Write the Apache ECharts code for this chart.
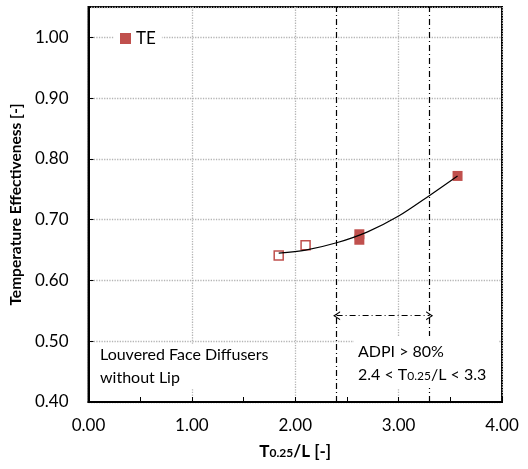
<!DOCTYPE html>
<html>
<head>
<meta charset="utf-8">
<script src="https://cdn.jsdelivr.net/npm/echarts@6/dist/echarts.min.js"></script>
<style>
  html, body { margin: 0; padding: 0; background: #fff; }
  #main { width: 528px; height: 469px; }
</style>
</head>
<body>
<div id="main"></div>
<script>
// values
const teX = [2.62, 2.62, 3.57];
const teY = [0.676, 0.667, 0.772];
const openX = [1.84, 2.10];
const openY = [0.641, 0.658];
// trend curve
const trendX = [1.84, 2.10, 2.40, 2.70, 3.00, 3.30, 3.57];
const trendY = [0.645, 0.650, 0.662, 0.680, 0.706, 0.740, 0.772];
const adpiBounds = [2.4, 3.3];
const arrowY = 0.542;

const red = '#c0504d';
const font = 'Lato';
const dashDot = [6, 3, 1, 3];
const gridGrey = '#b5b5b5';

const zip = (xs, ys) => xs.map((x, i) => [x, ys[i]]);

const chartEl = document.getElementById('main');
const myChart = echarts.init(chartEl, null, { renderer: 'canvas' });

const chevron = 'path://M0,10 L5,0 L10,10 L8.6,10 L5,2.8 L1.4,10 Z';

var option = {
  animation: false,
  grid: { left: 88, right: 26, top: 7, bottom: 67, show: true, borderColor: '#000', borderWidth: 2 },
  legend: {
    data: ['TE'],
    left: 114, top: 27,
    backgroundColor: '#fff',
    padding: [3, 6],
    icon: 'rect',
    itemWidth: 11, itemHeight: 11, itemGap: 7,
    textStyle: { fontFamily: font, fontSize: 17, color: '#000' }
  },
  xAxis: {
    type: 'value', min: 0, max: 4, interval: 1,
    name: '{b|T}{s|0.25}{b|/L [-]}',
    nameLocation: 'middle', nameGap: 41,
    nameTextStyle: {
      rich: {
        b: { fontFamily: font, fontSize: 17, fontWeight: 'bold', color: '#000' },
        s: { fontFamily: font, fontSize: 12, fontWeight: 'bold', color: '#000', padding: [4, 0, 0, 0] }
      }
    },
    axisLine: { lineStyle: { color: '#000', width: 2 } },
    axisTick: { show: true, inside: true, length: 5, lineStyle: { color: '#000' } },
    minorTick: { show: true, splitNumber: 2, length: 5, lineStyle: { color: '#000' } },
    axisLabel: { fontFamily: font, fontSize: 17, color: '#000', margin: 15, formatter: v => v.toFixed(2) },
    splitLine: { show: true, lineStyle: { color: gridGrey, type: 'dotted', width: 1.3 } }
  },
  yAxis: {
    type: 'value', min: 0.4, max: 1.05, interval: 0.1,
    name: 'Temperature Effectiveness [-]',
    nameLocation: 'middle', nameGap: 61,
    nameTextStyle: { fontFamily: font, fontSize: 15.5, fontWeight: 'bold', color: '#000' },
    axisLine: { lineStyle: { color: '#000', width: 2 } },
    axisTick: { show: true, inside: true, length: 5, lineStyle: { color: '#000' } },
    axisLabel: { fontFamily: font, fontSize: 17, color: '#000', margin: 20, showMaxLabel: false,
      formatter: v => v.toFixed(2) },
    splitLine: { show: true, lineStyle: { color: gridGrey, type: 'dotted', width: 1.3 } }
  },
  series: [
    {
      name: 'open',
      type: 'scatter',
      symbol: 'rect', symbolSize: 9,
      itemStyle: { color: '#fff', borderColor: red, borderWidth: 1.5, opacity: 1 },
      data: zip(openX, openY),
      z: 3
    },
    {
      name: 'TE',
      type: 'scatter',
      symbol: 'rect', symbolSize: 10,
      itemStyle: { color: red, opacity: 1 },
      data: zip(teX, teY),
      z: 3
    },
    {
      name: 'trend',
      type: 'line',
      smooth: 0.3,
      showSymbol: false,
      lineStyle: { color: '#000', width: 1.2 },
      data: zip(trendX, trendY),
      z: 4,
      markLine: {
        silent: true,
        symbol: 'none',
        label: { show: false },
        lineStyle: { color: '#000', width: 1.2, type: dashDot },
        data: [
          { xAxis: adpiBounds[0] },
          { xAxis: adpiBounds[1] },
          [
            { coord: [adpiBounds[0], arrowY], symbol: chevron, symbolSize: [9, 7] },
            { coord: [adpiBounds[1], arrowY], symbol: chevron, symbolSize: [9, 7] }
          ]
        ]
      }
    }
  ],
  graphic: [
    { type: 'rect', shape: { x: 90, y: 344, width: 188, height: 44 }, style: { fill: '#fff' }, z: 10 },
    { type: 'text', x: 100, y: 343, z: 11,
      style: { text: 'Louvered Face Diffusers\nwithout Lip', font: '16px Lato', fill: '#000', lineHeight: 23 } },
    { type: 'rect', shape: { x: 354, y: 336, width: 144, height: 52 }, style: { fill: '#fff' }, z: 10 },
    { type: 'text', x: 358, y: 340, z: 11,
      style: {
        text: '{n|ADPI > 80%}\n{n|2.4 < T}{s|0.25}{n|/L < 3.3}',
        rich: {
          n: { fontFamily: font, fontSize: 16, color: '#000', lineHeight: 23 },
          s: { fontFamily: font, fontSize: 12, color: '#000', lineHeight: 23, padding: [4, 0, 0, 0] }
        }
      }
    }
  ]
};
myChart.setOption(option);
</script>
</body>
</html>
